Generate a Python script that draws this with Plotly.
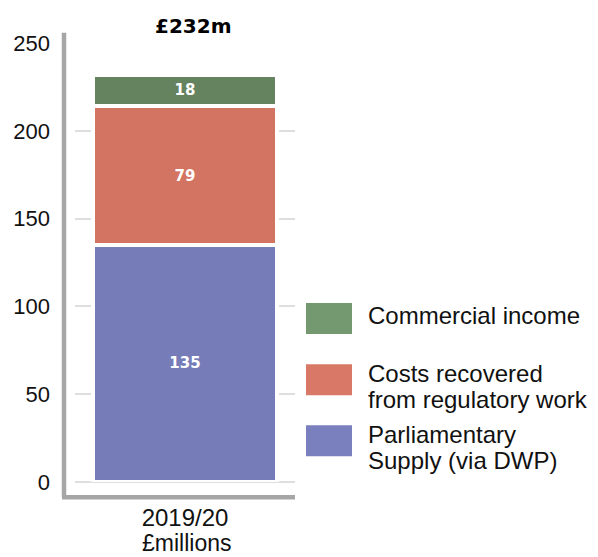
import plotly.graph_objects as go

# ---- data ----
period = ["2019/20"]
unit_label = "£millions"
series_names = ["Parliamentary Supply (via DWP)",
                "Costs recovered from regulatory work",
                "Commercial income"]
legend_lines = [["Parliamentary", "Supply (via DWP)"],
                ["Costs recovered", "from regulatory work"],
                ["Commercial income"]]
values_parliamentary = [135]
values_costs = [79]
values_commercial = [18]
series_values = [values_parliamentary, values_costs, values_commercial]
y_ticks = [0, 50, 100, 150, 200, 250]

bar_colors = ["#757cb8", "#d27461", "#66835f"]
legend_colors = ["#7a80bd", "#d97866", "#749870"]

# ---- geometry helpers (pixel -> paper) ----
W, H = 598, 557
L, R, T, B = 75, 295, 43.3, 481.7


def px_x(x):
    return (x - L) / (R - L)


def px_y(y):
    return (B - y) / (B - T)


fig = go.Figure()
for name, vals, col in zip(series_names, series_values, bar_colors):
    fig.add_trace(go.Bar(
        x=period, y=vals, name=name,
        marker=dict(color=col, line=dict(color="white", width=4)),
        text=[str(v) for v in vals], textposition="inside",
        insidetextanchor="middle", constraintext="none",
        textfont=dict(family="DejaVu Sans", size=15, color="white", weight="bold"),
        showlegend=False,
    ))

total = sum(v[0] for v in series_values)

shapes = []
annotations = []

# axis lines
shapes.append(dict(type="line", xref="paper", yref="paper",
                   x0=px_x(64), x1=px_x(64), y0=px_y(33), y1=px_y(497),
                   line=dict(color="#a6a6a6", width=4.5)))
shapes.append(dict(type="line", xref="paper", yref="paper",
                   x0=px_x(62), x1=px_x(295), y0=px_y(497), y1=px_y(497),
                   line=dict(color="#a6a6a6", width=4.5)))

# total label
annotations.append(dict(xref="paper", yref="paper", x=px_x(193), y=px_y(26),
                        xanchor="center", yanchor="middle", showarrow=False,
                        text="£%dm" % total,
                        font=dict(family="DejaVu Sans", size=20, color="black", weight="bold")))

# unit label
annotations.append(dict(xref="paper", yref="paper", x=px_x(186), y=px_y(557),
                        xanchor="center", yanchor="bottom", showarrow=False,
                        borderpad=0, text=unit_label,
                        font=dict(family="Liberation Sans", size=23, color="#111")))

# legend (top to bottom: reverse of stack order)
for i, idx in enumerate(reversed(range(len(series_names)))):
    top = 303 + 61 * i
    shapes.append(dict(type="rect", xref="paper", yref="paper",
                       x0=px_x(306), x1=px_x(352), y0=px_y(top), y1=px_y(top + 31),
                       fillcolor=legend_colors[idx], line=dict(width=0)))
    lines = legend_lines[idx]
    if len(lines) == 1:
        offs = [12.5]
    else:
        offs = [9.5, 35]
    for ln, off in zip(lines, offs):
        annotations.append(dict(xref="paper", yref="paper", x=px_x(366), y=px_y(top + off),
                                xanchor="left", yanchor="middle", showarrow=False,
                                text=ln,
                                font=dict(family="Liberation Sans", size=24, color="#111")))

fig.update_layout(
    width=W, height=H,
    margin=dict(l=L, r=W - R, t=T, b=H - B),
    paper_bgcolor="white", plot_bgcolor="white",
    barmode="stack", bargap=0.16,
    showlegend=False,
    shapes=shapes, annotations=annotations,
    font=dict(family="Liberation Sans", color="#111"),
)
fig.update_xaxes(type="category", range=[-0.5, 0.5], showgrid=False, showline=False,
                 zeroline=False, ticks="", tickfont=dict(size=24, family="Liberation Sans", color="#111"),
                 ticklabelstandoff=19)
fig.update_yaxes(range=[0, 250], tickvals=y_ticks, showgrid=True, gridcolor="#dedede",
                 gridwidth=1.5, zeroline=True, zerolinecolor="#dedede", zerolinewidth=1.5,
                 showline=False, ticks="", ticklabelstandoff=24,
                 tickfont=dict(size=22, family="Liberation Sans", color="#111"))

fig.write_html("out.html")
